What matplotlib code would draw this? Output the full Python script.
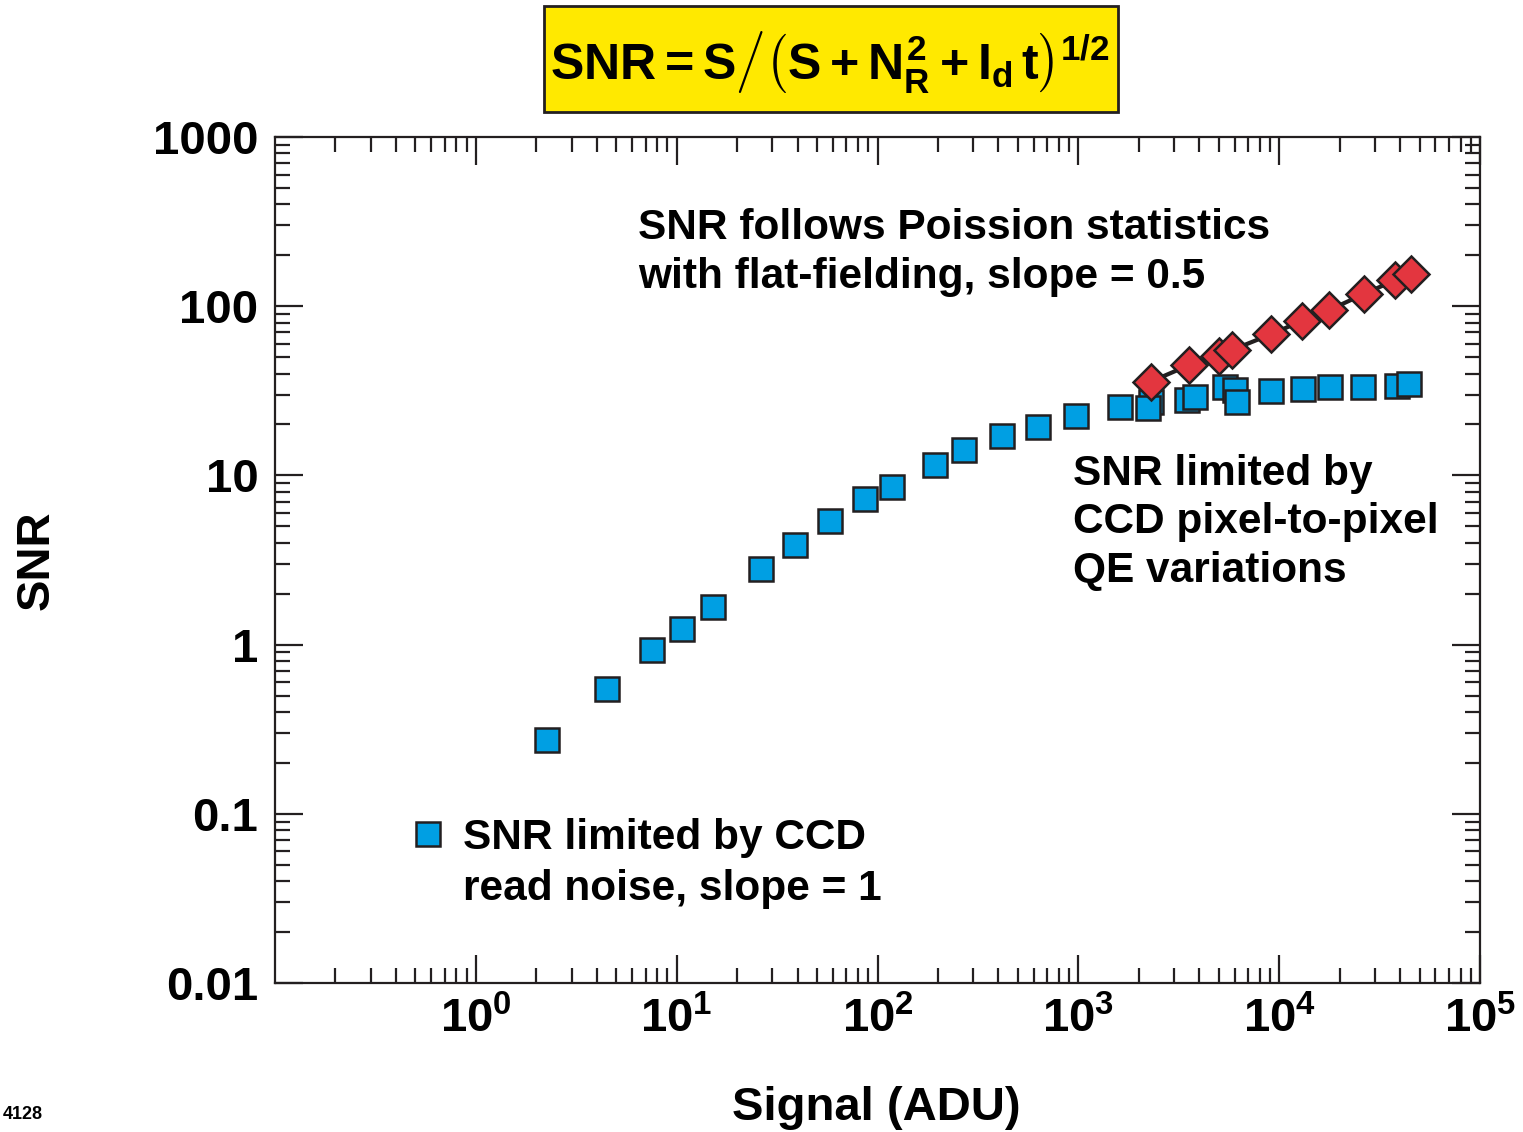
import numpy as np
import matplotlib
matplotlib.use("Agg")
import matplotlib.pyplot as plt
from matplotlib.patches import Rectangle
from matplotlib.lines import Line2D
from matplotlib.ticker import FixedLocator, LogLocator, NullFormatter

plt.rcParams["font.family"] = "Liberation Sans"
plt.rcParams["font.weight"] = "bold"
plt.rcParams["mathtext.fontset"] = "custom"
plt.rcParams["mathtext.rm"] = "Liberation Sans:bold"
plt.rcParams["mathtext.it"] = "Liberation Sans:bold"
plt.rcParams["mathtext.bf"] = "Liberation Sans:bold"
plt.rcParams["mathtext.sf"] = "Liberation Sans:bold"

"Data read off the figure"
# read-noise / QE limited points (blue squares)
signal_ccd = [2.27, 4.49, 7.55, 10.6, 15.1, 26.4, 38.9, 57.8, 86.4, 118,
              193, 271, 417, 628, 978, 1607, 2291, 2234, 3490, 3821,
              5355, 6040, 6155, 9057, 13180, 17900, 26250, 38640, 44430]
snr_ccd = [0.273, 0.549, 0.929, 1.231, 1.668, 2.786, 3.894, 5.40, 7.25, 8.54,
           11.52, 14.13, 17.10, 19.32, 22.44, 25.47, 27.27, 24.93, 27.9, 29.18,
           33.17, 31.97, 27.27, 31.54, 32.28, 33.17, 33.17, 33.75, 34.68]

# flat-fielded points (red diamonds)
signal_ff = [2291, 3570, 5000, 5820, 9100, 13030, 17780, 26430, 37900, 45290]
snr_ff = [35.8, 44.9, 50.8, 55.1, 68.2, 82.1, 95.0, 118.1, 142.8, 155]

y_ticks = [0.01, 0.1, 1, 10, 100, 1000]
y_ticklabels = ["0.01", "0.1", "1", "10", "100", "1000"]
x_ticks = [1, 10, 100, 1000, 10000, 100000]
x_ticklabels = [r"$10^{%d}$" % k for k in range(0, 6)]

"Figure properties"
W, H = 1523, 1132
Blue = "#009FE3"
Red = "#E3363F"
Edge = "#231F20"
Label_Size = 34
Tick_Size = 34
Text_Size = 30.5
Line_Sp = 1.28


def fx(x):
    return x / W


def fy(y):
    return 1 - y / H


fig = plt.figure(figsize=(W / 100, H / 100), dpi=100)
ax = fig.add_axes([fx(275), fy(983), fx(1480) - fx(275), fy(137) - fy(983)])

for axis in ["top", "bottom", "left", "right"]:
    ax.spines[axis].set_linewidth(1.6)
    ax.spines[axis].set_color(Edge)

ax.set_xscale("log")
ax.set_yscale("log")
ax.set_xlim(0.1, 1e5)
ax.set_ylim(0.01, 1000)

ax.xaxis.set_major_locator(FixedLocator(x_ticks))
ax.set_xticklabels(x_ticklabels)
ax.xaxis.set_minor_locator(LogLocator(base=10, subs=np.arange(2, 10), numticks=20))
ax.xaxis.set_minor_formatter(NullFormatter())
ax.yaxis.set_major_locator(FixedLocator(y_ticks))
ax.set_yticklabels(y_ticklabels)
ax.yaxis.set_minor_locator(LogLocator(base=10, subs=np.arange(2, 10), numticks=20))
ax.yaxis.set_minor_formatter(NullFormatter())

ax.tick_params(which="both", direction="in", top=True, right=True, color=Edge)
ax.tick_params(which="major", length=20, width=1.6)
ax.tick_params(which="minor", length=11, width=1.6)
ax.tick_params(axis="x", which="major", labelsize=Tick_Size, pad=10)
ax.tick_params(axis="y", which="major", labelsize=Tick_Size, pad=12)

"Plotting data"
ax.plot(signal_ccd, snr_ccd, linestyle="none", marker="s", markersize=17.5,
        markerfacecolor=Blue, markeredgecolor=Edge, markeredgewidth=1.8, zorder=3)
ax.plot(signal_ff, snr_ff, color=Edge, linewidth=3, zorder=4)
ax.plot(signal_ff, snr_ff, linestyle="none", marker="D", markersize=18,
        markerfacecolor=Red, markeredgecolor=Edge, markeredgewidth=1.8, zorder=5)

"Annotations (baseline of the last line given)"
fig.text(fx(638), fy(288), "SNR follows Poission statistics\nwith flat-fielding, slope = 0.5",
         fontsize=Text_Size, ha="left", va="baseline", linespacing=Line_Sp)
fig.text(fx(1073), fy(582), "SNR limited by\nCCD pixel-to-pixel\nQE variations",
         fontsize=Text_Size, ha="left", va="baseline", linespacing=Line_Sp)

key = Line2D([], [], linestyle="none", marker="s", markersize=17.5,
             markerfacecolor=Blue, markeredgecolor=Edge, markeredgewidth=1.8)
leg = ax.legend([key], ["SNR limited by CCD"], loc="center left",
                bbox_to_anchor=(fx(412), fy(838)), bbox_transform=fig.transFigure,
                frameon=False, fontsize=Text_Size, borderpad=0, borderaxespad=0,
                handlelength=0.75, handletextpad=0.45)
fig.text(fx(463), fy(900), "read noise, slope = 1", fontsize=Text_Size,
         ha="left", va="baseline")

"Axis labels"
fig.text(fx(876), fy(1108), "Signal (ADU)", fontsize=Label_Size, ha="center", va="center")
fig.text(fx(37), fy(560), "SNR", fontsize=Label_Size, ha="center", va="center", rotation=90)
fig.text(fx(3), fy(1119), "4128", fontsize=13, ha="left", va="baseline")

"Formula box"
fig.patches.append(Rectangle((fx(544), fy(112)), fx(1118) - fx(544), fy(6) - fy(112),
                             transform=fig.transFigure, facecolor="#FFE900",
                             edgecolor=Edge, linewidth=2))
fig.text(fx(830), fy(62),
         r"$SNR = S\left/\left(S + N_R^2 + I_d\,t\right)^{1/2}\right.$",
         fontsize=36, ha="center", va="center")

"Save figure"
plt.savefig("out.png", dpi=100)
